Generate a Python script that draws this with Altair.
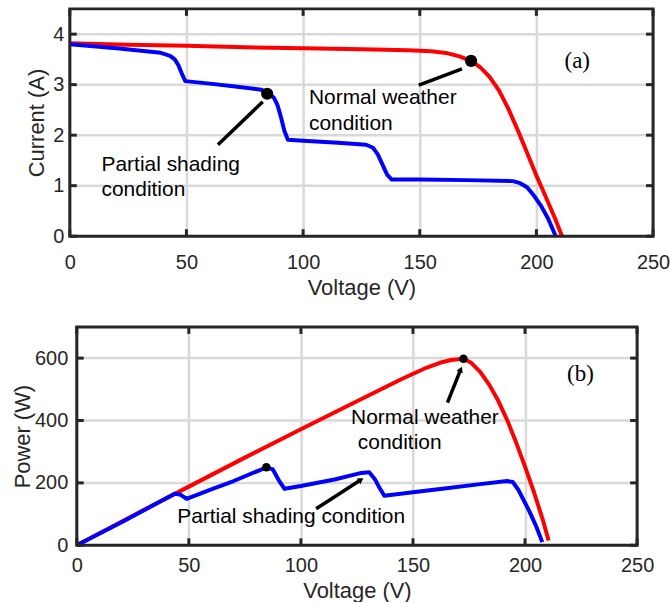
import altair as alt
import pandas as pd

# ---------------- data ----------------
# (a) I-V curves
iv_normal_v = [0, 25, 50, 75, 100, 125, 145, 155, 162, 167, 172, 176, 180, 184, 188, 192, 196, 200, 204, 208, 211]
iv_normal_i = [3.82, 3.79, 3.77, 3.74, 3.72, 3.70, 3.68, 3.66, 3.62, 3.56, 3.47, 3.34, 3.15, 2.88, 2.52, 2.10, 1.65, 1.20, 0.78, 0.35, 0.0]

iv_shaded_v = [0, 20, 39, 43, 45, 46.5, 48, 49.5, 60, 70, 82, 85, 87.5, 89, 90.5, 92, 93.5, 100, 115, 127,
               130, 132, 134, 136, 138, 150, 170, 190, 193, 196, 199, 202, 205, 208.3]
iv_shaded_i = [3.80, 3.72, 3.63, 3.57, 3.50, 3.39, 3.22, 3.07, 3.02, 2.97, 2.90, 2.84, 2.74, 2.60, 2.36, 2.08, 1.91, 1.89, 1.85, 1.81,
               1.75, 1.62, 1.42, 1.22, 1.12, 1.12, 1.11, 1.09, 1.05, 0.97, 0.80, 0.60, 0.35, 0.0]

# (b) P-V curves
pv_normal_v = [0, 25, 50, 75, 100, 125, 145, 155, 162, 167, 172.5, 176, 180, 184, 188, 192, 196, 200, 204, 208, 210.5]
pv_normal_p = [0, 95, 188, 281, 372, 462, 533, 566, 585, 594, 598, 585, 556, 515, 464, 402, 330, 252, 170, 80, 15]

pv_shaded_v = [0, 20, 43.7, 46, 49, 60, 70, 82, 84.6, 87.5, 90, 92.7, 100, 115, 127, 130.5, 133, 135, 137.2,
               150, 165, 180, 192, 194.5, 197, 199.5, 202, 205, 207.7]
pv_shaded_p = [0, 74, 165, 163, 149, 179, 206, 242, 250, 243, 210, 181, 190, 211, 232, 234, 212, 185, 159,
               170, 183, 196, 206, 203, 178, 143, 108, 60, 10]

# marked points
iv_dot_v = [172, 84.6]
iv_dot_i = [3.47, 2.82]
pv_dot_v = [172.5, 84.6]
pv_dot_p = [598, 250]

# annotation arrows (start -> end)
iv_arrow_v = [149.6, 63.5]
iv_arrow_i = [2.99, 1.81]
iv_arrow_v2 = [168.1, 82.7]
iv_arrow_i2 = [3.31, 2.66]
pv_arrow_v = [165.4, 106.8]
pv_arrow_p = [457, 117]
pv_arrow_v2 = [171.3, 126.8]
pv_arrow_p2 = [564, 210]
pv_arrow_head_angle = [22, 57]   # clockwise from "up", degrees

# annotation texts
iv_text = ["Normal weather", "condition", "Partial shading", "condition"]
iv_text_v = [102.5, 102.5, 13.6, 13.6]
iv_text_i = [2.61, 2.11, 1.30, 0.79]
pv_text = ["Normal weather", "condition", "Partial shading condition"]
pv_text_v = [122.4, 125.4, 44.8]
pv_text_p = [388, 308, 70]

tag_a = ["(a)"]; tag_a_v = [217.5]; tag_a_i = [3.46]
tag_b = ["(b)"]; tag_b_v = [224.7]; tag_b_p = [550]

x_ticks = [0, 50, 100, 150, 200, 250]
i_ticks = [0, 1, 2, 3, 4]
p_ticks = [0, 200, 400, 600]

series = ["Normal weather", "Partial shading"]
colors = ["#ff0000", "#0000ff"]

FRAME = "#262626"
GRID = "#d9d9d9"
SANS = "Liberation Sans"


def panel(curves, dots, arrows, texts, tag, yticks, ydom, ytitle, W, H, inset,
          dot_size, xlab_pad, xtitle_pad, ylab_pad, ytitle_pad, heads=None):
    """W is the group width; the plot frame runs from `inset` to W."""
    xaxis = dict(values=x_ticks, title="Voltage (V)", labelFlush=False,
                 labelPadding=xlab_pad, titlePadding=xtitle_pad)
    if inset:
        xaxis.update(titleX=(inset + W) / 2, titleAlign="center")
    x_enc = alt.X("V:Q", scale=alt.Scale(domain=[0, 250], nice=False, zero=False, range=[inset, W]),
                  axis=alt.Axis(**xaxis))
    y_enc = alt.Y("Y:Q", scale=alt.Scale(domain=ydom, nice=False, zero=False),
                  axis=alt.Axis(values=yticks, title=ytitle, labelFlush=False, grid=False,
                                labelPadding=ylab_pad, titlePadding=ytitle_pad))

    yt = pd.DataFrame({"Y": yticks})
    xt = pd.DataFrame({"V": x_ticks})
    one = pd.DataFrame({"k": [0]})

    ygrid = alt.Chart(yt).mark_rule(color=GRID, strokeWidth=2.5).encode(
        y=y_enc, x=alt.value(inset), x2=alt.value(W))
    lines = alt.Chart(curves).mark_line(strokeWidth=4, strokeJoin="round").encode(
        x=x_enc, y=y_enc,
        color=alt.Color("cond:N", scale=alt.Scale(domain=series, range=colors), legend=None),
    )
    pts = alt.Chart(dots).mark_circle(color="black", opacity=1, size=dot_size).encode(x=x_enc, y=y_enc)
    arr = alt.Chart(arrows).mark_rule(color="black", strokeWidth=3.5).encode(
        x=x_enc, y=y_enc, x2="V2:Q", y2="Y2:Q")
    txt = alt.Chart(texts).mark_text(align="left", baseline="alphabetic", font=SANS,
                                     fontSize=21, color="black").encode(x=x_enc, y=y_enc, text="t:N")
    tg = alt.Chart(tag).mark_text(align="center", baseline="middle", font="Liberation Serif",
                                  fontSize=23, color="black").encode(x=x_enc, y=y_enc, text="t:N")

    tick_style = dict(color=FRAME, strokeWidth=3)
    t_bottom = alt.Chart(xt).mark_rule(**tick_style).encode(x=x_enc, y=alt.value(H - 7), y2=alt.value(H))
    t_top = alt.Chart(xt).mark_rule(**tick_style).encode(x=x_enc, y=alt.value(0), y2=alt.value(7))
    t_left = alt.Chart(yt).mark_rule(**tick_style).encode(y=y_enc, x=alt.value(inset), x2=alt.value(inset + 7))
    t_right = alt.Chart(yt).mark_rule(**tick_style).encode(y=y_enc, x=alt.value(W - 7), x2=alt.value(W))
    frame = alt.Chart(one).mark_rect(fillOpacity=0, stroke=FRAME, strokeWidth=3).encode(
        x=alt.value(inset), x2=alt.value(W), y=alt.value(0), y2=alt.value(H))

    layers = [ygrid, lines, arr, pts, txt, tg]
    if heads is not None:
        hd = alt.Chart(heads).mark_point(shape="triangle-up", filled=True, color="black",
                                         opacity=1, size=45).encode(
            x=x_enc, y=y_enc, angle=alt.Angle("a:Q", scale=None))
        layers.append(hd)
    layers += [t_bottom, t_top, t_left, t_right, frame]
    return alt.layer(*layers).properties(width=W, height=H)


iv_curves = pd.concat([
    pd.DataFrame({"V": iv_normal_v, "Y": iv_normal_i, "cond": series[0]}),
    pd.DataFrame({"V": iv_shaded_v, "Y": iv_shaded_i, "cond": series[1]}),
])
pv_curves = pd.concat([
    pd.DataFrame({"V": pv_normal_v, "Y": pv_normal_p, "cond": series[0]}),
    pd.DataFrame({"V": pv_shaded_v, "Y": pv_shaded_p, "cond": series[1]}),
])

top = panel(
    iv_curves,
    pd.DataFrame({"V": iv_dot_v, "Y": iv_dot_i}),
    pd.DataFrame({"V": iv_arrow_v, "Y": iv_arrow_i, "V2": iv_arrow_v2, "Y2": iv_arrow_i2}),
    pd.DataFrame({"t": iv_text, "V": iv_text_v, "Y": iv_text_i}),
    pd.DataFrame({"t": tag_a, "V": tag_a_v, "Y": tag_a_i}),
    i_ticks, [0, 4.5], "Current (A)", 585, 228, 0, 150,
    xlab_pad=16, xtitle_pad=5, ylab_pad=6, ytitle_pad=4,
)
bottom = panel(
    pv_curves,
    pd.DataFrame({"V": pv_dot_v, "Y": pv_dot_p}),
    pd.DataFrame({"V": pv_arrow_v, "Y": pv_arrow_p, "V2": pv_arrow_v2, "Y2": pv_arrow_p2}),
    pd.DataFrame({"t": pv_text, "V": pv_text_v, "Y": pv_text_p}),
    pd.DataFrame({"t": tag_b, "V": tag_b_v, "Y": tag_b_p}),
    p_ticks, [0, 700], "Power (W)", 569, 219, 7, 75,
    xlab_pad=10, xtitle_pad=5, ylab_pad=2, ytitle_pad=0,
    heads=pd.DataFrame({"V": pv_arrow_v2, "Y": pv_arrow_p2, "a": pv_arrow_head_angle}),
)

chart = alt.vconcat(top, bottom, spacing=27).properties(
    padding={"left": 11, "top": 6, "right": 0, "bottom": 0},
    background="white",
).configure_view(
    stroke=None,
).configure_axis(
    grid=True, gridColor=GRID, gridWidth=2.5, domain=False, ticks=False,
    labelFont=SANS, labelFontSize=20, labelColor="#262626", labelOverlap=False,
    titleFont=SANS, titleFontSize=22, titleFontWeight="normal", titleColor="#262626",
)

chart.save("out.html", embed_options={"renderer": "svg", "actions": False})
